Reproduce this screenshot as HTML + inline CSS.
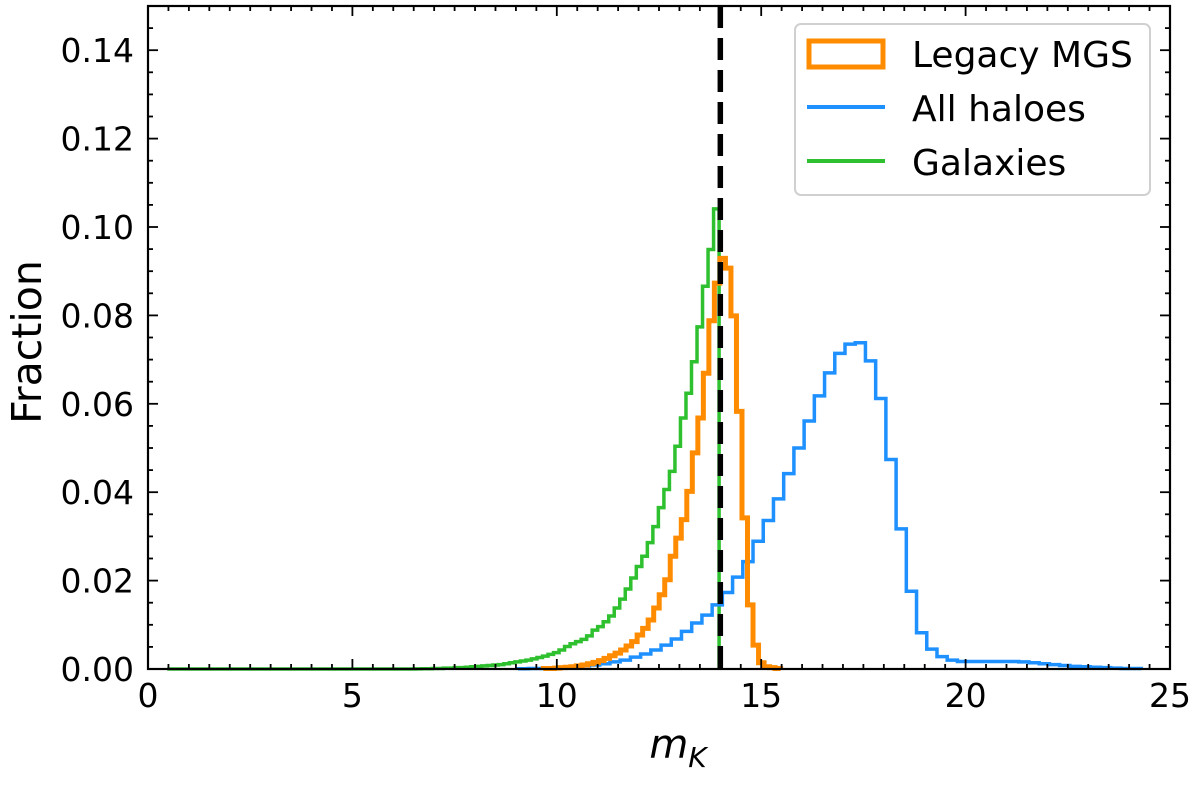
<!DOCTYPE html>
<html><head><meta charset="utf-8"><style>
html,body{margin:0;padding:0;background:#fff;}
svg{display:block;font-family:"DejaVu Sans","Liberation Sans",sans-serif;}
</style></head><body>
<svg id="chart" width="1200" height="785" viewBox="0 0 1200 785">
<g id="plot"></g>
</svg>
<script>
const xTicks = [0, 5, 10, 15, 20, 25];
const yTicks = [0.00, 0.02, 0.04, 0.06, 0.08, 0.10, 0.12, 0.14];
const yTickLabels = ["0.00","0.02","0.04","0.06","0.08","0.10","0.12","0.14"];
const cutLine = 14.0;
const blueStart = 9.05, blueWidth = 0.25;
const blueValues = [0.00005,0.0001,0.0001,0.0002,0.0003,0.0005,0.0007,0.0009,0.0012,0.0016,0.0020,0.0027,0.0034,0.0043,0.0054,0.0068,0.0085,0.0104,0.0122,
0.0145,0.0173,0.0208,0.0243,0.0289,0.0336,0.0385,0.0442,0.0500,0.0561,0.0618,0.0670,0.0714,0.0735,0.0738,0.0697,0.0612,0.0474,0.0317,0.0176,0.0082,0.0045,0.0028,0.0020,
0.0017,0.0017,0.0017,0.0017,0.0017,0.0017,0.0016,0.0014,0.0012,0.0010,0.0008,0.0006,0.0005,0.0004,0.0003,0.0002,0.0001,0.0001];
const greenStart = 0.47, greenWidth = 0.135;
const greenValues = [0,0,0,0,0,0,0,0,0,0,0,0,0,0,0,0,0,0,0,0,0,0,0,0,0,0,0,0,0,0,0,0,0,0,0,0,0,0,0,0,0,0,0,0,0,0.00003,0.00005,0.00007,0.0001,0.0001,
0.0002,0.0002,0.0003,0.0003,0.0004,0.0005,0.0006,0.0007,0.0008,0.0009,0.0010,0.0012,0.0014,0.0016,0.0018,0.0020,0.0023,0.0026,0.0029,0.0033,
0.0037,0.0043,0.0051,0.0057,0.0062,0.0067,0.0075,0.0088,0.0096,0.0107,0.0120,0.0138,0.0158,0.0181,0.0206,0.0232,0.0255,0.0286,0.0322,0.0365,
0.0406,0.0447,0.0504,0.0568,0.0624,0.0695,0.0774,0.0866,0.0949,0.1041];
const orangeStart = 9.67, orangeWidth = 0.135;
const orangeValues = [0.0001,0.0001,0.0002,0.0003,0.0004,0.0005,0.0007,0.0009,0.0012,0.0015,0.0019,0.0024,0.0030,0.0036,0.0043,0.0052,0.0062,0.0077,0.0092,0.0111,0.0138,0.0168,0.0202,0.0255,0.0296,0.0338,0.0402,0.0489,0.0568,0.0669,0.0788,0.0873,
0.0929,0.0907,0.0799,0.0583,0.0342,0.0145,0.0054,0.0014,0.0005,0.0003,0.0001];

const L=148,R=1170,T=6,B=669,xMax=25,yMax=0.15;
const X=v=>L+(v/xMax)*(R-L);
const Y=v=>B-(v/yMax)*(B-T);
const NS="http://www.w3.org/2000/svg";
const g=document.getElementById('plot');
function mk(tag,attrs,parent){const e=document.createElementNS(NS,tag);for(const k in attrs)e.setAttribute(k,attrs[k]);(parent||g).appendChild(e);return e;}

function stepPath(start,width,vals){
  let d=`M${X(start)},${Y(0)}`;
  vals.forEach((v,i)=>{const x0=X(start+i*width),x1=X(start+(i+1)*width);d+=` L${x0},${Y(v)} L${x1},${Y(v)}`;});
  d+=` L${X(start+vals.length*width)},${Y(0)}`;
  return d;
}
const pg=mk('path',{d:stepPath(greenStart,greenWidth,greenValues),fill:'none',stroke:'#2ec02e','stroke-width':3.5});


const pb=mk('path',{d:stepPath(blueStart,blueWidth,blueValues),fill:'none',stroke:'#1e90ff','stroke-width':3.5});


const po=mk('path',{d:stepPath(orangeStart,orangeWidth,orangeValues),fill:'none',stroke:'#ff8c00','stroke-width':5});


const cl=mk('line',{x1:X(cutLine),x2:X(cutLine),y1:T,y2:B,stroke:'#000','stroke-width':5.5,'stroke-dasharray':'22,10'});



for(let v=0;v<=25.001;v+=0.5){
  const major=Math.abs(v-Math.round(v/5)*5)<1e-6, len=major?10:5;
  const t1=mk('line',{x1:X(v),x2:X(v),y1:B,y2:B-len,stroke:'#000','stroke-width':1.8});
  
  
  const t2=mk('line',{x1:X(v),x2:X(v),y1:T,y2:T+len,stroke:'#000','stroke-width':1.8});
  
  
}
for(let i=0;i<=30;i++){
  const v=i*0.005, major=i%4===0, len=major?10:5;
  const t1=mk('line',{x1:L,x2:L+len,y1:Y(v),y2:Y(v),stroke:'#000','stroke-width':1.8});
  
  
  const t2=mk('line',{x1:R,x2:R-len,y1:Y(v),y2:Y(v),stroke:'#000','stroke-width':1.8});
  
  
}
xTicks.forEach(v=>{
  const t=mk('text',{x:X(v),y:B+38,'font-size':33,'text-anchor':'middle',fill:'#000'});
  t.textContent=String(v);
  
  
});
yTicks.forEach((v,i)=>{
  const t=mk('text',{x:134,y:Y(v)+12,'font-size':33,'text-anchor':'end',fill:'#000'});
  t.textContent=yTickLabels[i];
  
  
});
const frame=mk('rect',{x:L,y:T,width:R-L,height:B-T,fill:'none',stroke:'#000','stroke-width':2.2});



const yt=mk('text',{x:0,y:0,'font-size':41,'text-anchor':'middle',fill:'#000',transform:'translate(41,342) rotate(-90)'});
yt.textContent='Fraction';


const xt=mk('text',{x:678,y:758,'font-size':40,'text-anchor':'middle',fill:'#000'});
xt.innerHTML='<tspan font-style="italic">m</tspan><tspan font-style="italic" font-size="28" dy="9">K</tspan>';



const lg=mk('g',{});


mk('rect',{x:795,y:24,width:355,height:171,rx:6,fill:'#fff','fill-opacity':0.85,stroke:'#d0d0d0','stroke-width':2},lg);
const le1=mk('rect',{x:809,y:41,width:74,height:26,fill:'none',stroke:'#ff8c00','stroke-width':5},lg);


const le2=mk('line',{x1:807,x2:885,y1:107,y2:107,stroke:'#1e90ff','stroke-width':4},lg);


const le3=mk('line',{x1:807,x2:885,y1:161,y2:161,stroke:'#2ec02e','stroke-width':4},lg);


[['Legacy MGS',67],['All haloes',121],['Galaxies',175]].forEach(([s,y])=>{
  const t=mk('text',{x:912,y:y,'font-size':36,fill:'#000'},lg);
  t.textContent=s;
  
  
});
</script>
</body></html>
